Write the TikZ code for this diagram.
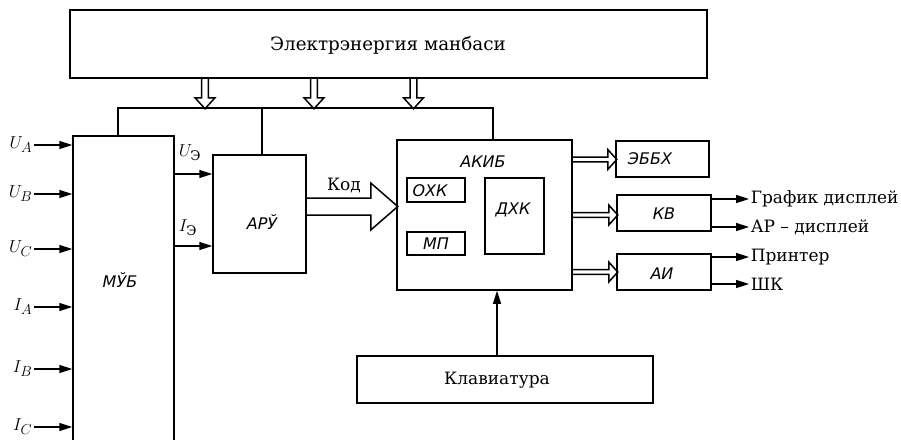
\documentclass[tikz,border=0pt]{standalone}
\usepackage{fontspec}
\usepackage{amsmath}
\setmainfont{DejaVu Serif}
\newfontfamily\boxfont{DejaVu Sans}
\usetikzlibrary{arrows.meta,calc}
\tikzset{
  blk/.style n args={2}{draw, rectangle, inner sep=0pt, minimum width=#1, minimum height=#2},
  serif/.style={font=\fontsize{17}{20}\selectfont, inner sep=1pt},
  lbl/.style={font=\boxfont\itshape\fontsize{16}{18}\selectfont, inner sep=1pt},
  mth/.style={font=\fontsize{19}{21}\selectfont, inner sep=1pt},
  pics/hdown/.style={code={\draw (-3.3,0) -- (-3.3,19) -- (-10,19) -- (0,30) -- (10,19) -- (3.3,19) -- (3.3,0);}},
  pics/hright/.style n args={4}{code={\draw (0,-#2) -- ({#1-#4},-#2) -- ({#1-#4},-#3) -- (#1,0) -- ({#1-#4},#3) -- ({#1-#4},#2) -- (0,#2);}}
}
\begin{document}
\begin{tikzpicture}[x=1pt,y=-1pt,line width=1.5pt,>={Triangle[length=13pt,width=8pt]}]
\useasboundingbox (0,0) rectangle (901,439);
\clip (0,0) rectangle (901,439);
% boxes
\node[blk={637pt}{68pt}] (top) at (388.5,44) {};
\node[serif, font=\fontsize{18.3}{21}\selectfont] (topl) at (388,45) {Электрэнергия манбаси};
\node[blk={101pt}{344pt}] (mub) at (123.5,308) {};
\node[lbl] (mubl) at (120,280) {МЎБ};
\node[blk={93pt}{118pt}] (aru) at (259.5,214) {};
\node[lbl] (arul) at (262,222) {АРЎ};
\node[blk={175pt}{150pt}] (akib) at (484.5,215) {};
\node[lbl] (akibl) at (483,162) {АКИБ};
\node[blk={58pt}{24pt}] (okh) at (436,190) {};
\node[lbl] (okhl) at (430,191) {ОХК};
\node[blk={58pt}{23pt}] (mp) at (436,243.5) {};
\node[lbl] (mpl) at (436,244) {МП};
\node[blk={59pt}{76pt}] (dxk) at (514.5,216) {};
\node[lbl] (dxkl) at (513,210) {ДХК};
\node[blk={93pt}{36pt}] (ebbx) at (662.5,159) {};
\node[lbl] (ebbxl) at (650,159) {ЭББХ};
\node[blk={94pt}{36pt}] (kv) at (664,213) {};
\node[lbl] (kvl) at (664,214) {КВ};
\node[blk={94pt}{36pt}] (ai) at (664,272) {};
\node[lbl] (ail) at (662,274) {АИ};
\node[blk={296pt}{47pt}] (klav) at (505,379.5) {};
\node[serif] (klavl) at (497,380) {Клавиатура};
% bus
\coordinate (busL) at (118,108);
\coordinate (busA) at (262,108);
\coordinate (busR) at (493,108);
\draw (busL |- mub.north) -- (busL) -- (busR) -- (busR |- akib.north);
\draw (busA) -- (busA |- aru.north);
\pic at (205,0 |- top.south) {hdown};
\pic at (314,0 |- top.south) {hdown};
\pic at (413.5,0 |- top.south) {hdown};
% inputs
\foreach \n/\t/\y in {ua/{$U_A$}/145, ub/{$U_B$}/194, uc/{$U_C$}/249, ia/{$I_A$}/307, ib/{$I_B$}/369, ic/{$I_C$}/427}{
  \node[mth, anchor=east] (\n) at (34,\y) {\t};
  \draw[->] (\n.east) -- (\n.east -| mub.west);
}
\node[mth] (ue) at (190,153) {$U_{\text{Э}}$};
\node[mth] (ie) at (188,228) {$I_{\text{Э}}$};
\draw[->] (mub.east |- 0,174) -- (aru.west |- 0,174);
\draw[->] (mub.east |- 0,246) -- (aru.west |- 0,246);
% code arrow
\pic at (aru.east |- 0,206.5) {hright={91}{8.5}{23.5}{27}};
\node[serif] (kod) at (344,185) {Код};
% right hollow arrows
\pic at (akib.east |- 0,159.5) {hright={44}{2.3}{10}{9}};
\pic at (akib.east |- 0,215) {hright={45}{2.3}{10}{9}};
\pic at (akib.east |- 0,272) {hright={45}{2.3}{10}{9}};
% outputs
\node[serif, anchor=west] (gd) at (749,199) {График дисплей};
\node[serif, anchor=west] (ard) at (749,227) {АР – дисплей};
\node[serif, anchor=west] (pr) at (749,257) {Принтер};
\node[serif, anchor=west] (shk) at (749,284) {ШК};
\draw[->] (kv.east |- gd.west) -- (gd.west);
\draw[->] (kv.east |- ard.west) -- (ard.west);
\draw[->] (ai.east |- pr.west) -- (pr.west);
\draw[->] (ai.east |- shk.west) -- (shk.west);
% keyboard
\draw[->] (497,0 |- klav.north) -- (497,0 |- akib.south);
\end{tikzpicture}
\end{document}
